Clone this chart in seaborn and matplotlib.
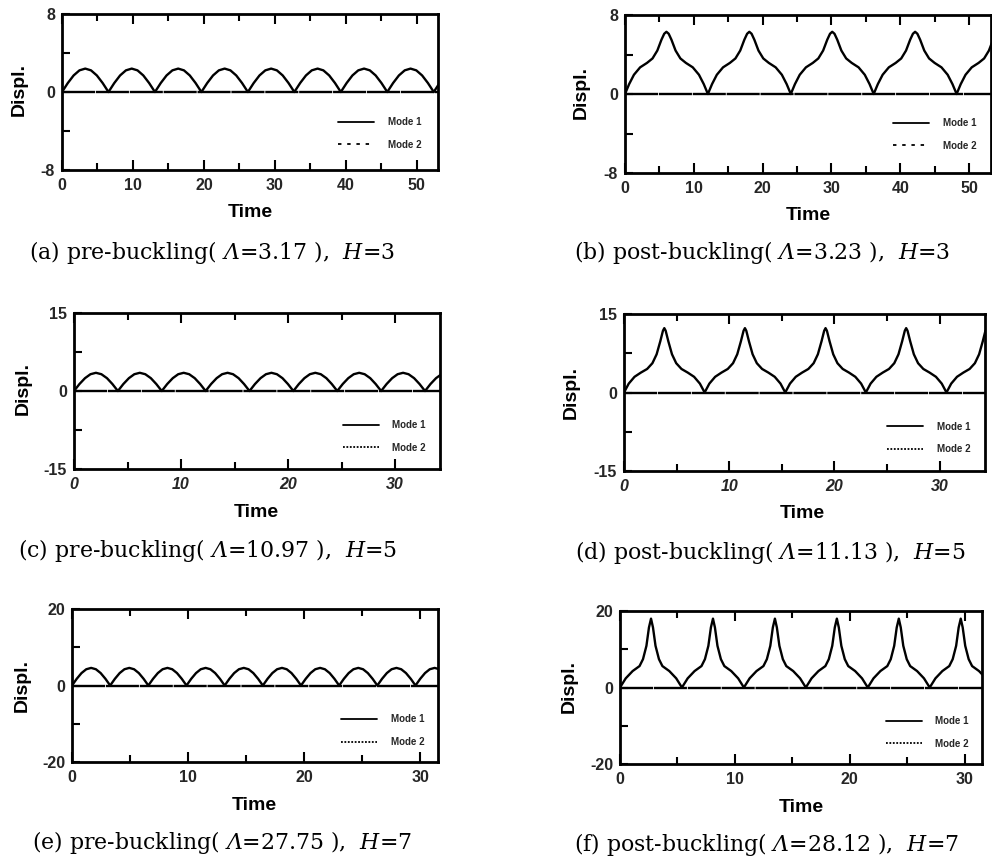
import matplotlib
matplotlib.use("Agg")
import matplotlib.pyplot as plt
from matplotlib.lines import Line2D
from matplotlib.ticker import FixedLocator
import pandas as pd
import seaborn as sns

# ---------------- data ----------------
# (a) pre-buckling, H=3
a_mode1_time = [0, 0.82, 1.64, 2.46, 3.28, 4.09, 4.91, 5.73, 6.55,
                7.37, 8.19, 9.01, 9.83, 10.64, 11.46, 12.28, 13.1,
                13.92, 14.74, 15.56, 16.38, 17.19, 18.01, 18.83, 19.65,
                20.47, 21.29, 22.11, 22.93, 23.74, 24.56, 25.38, 26.2,
                27.02, 27.84, 28.66, 29.48, 30.29, 31.11, 31.93, 32.75,
                33.57, 34.39, 35.21, 36.03, 36.84, 37.66, 38.48, 39.3,
                40.12, 40.94, 41.76, 42.58, 43.39, 44.21, 45.03, 45.85,
                46.67, 47.49, 48.31, 49.13, 49.94, 50.76, 51.58, 52.4,
                53.22]
a_mode1_disp = [0, 0.92, 1.7, 2.22, 2.4, 2.22, 1.7, 0.92, 0,
                0.92, 1.7, 2.22, 2.4, 2.22, 1.7, 0.92, 0,
                0.92, 1.7, 2.22, 2.4, 2.22, 1.7, 0.92, 0,
                0.92, 1.7, 2.22, 2.4, 2.22, 1.7, 0.92, 0,
                0.92, 1.7, 2.22, 2.4, 2.22, 1.7, 0.92, 0,
                0.92, 1.7, 2.22, 2.4, 2.22, 1.7, 0.92, 0,
                0.92, 1.7, 2.22, 2.4, 2.22, 1.7, 0.92, 0,
                0.92, 1.7, 2.22, 2.4, 2.22, 1.7, 0.92, 0,
                0.92]
a_mode2_time = [0, 54]
a_mode2_disp = [0, 0]

# (b) post-buckling, H=3
b_mode1_time = [0, 0.6, 1.3, 2.2, 3.2, 4.0, 4.7, 5.3, 5.7, 6.02, 6.35, 6.75, 7.35, 8.05, 8.85, 9.85, 10.75, 11.45, 12.05,
                12.65, 13.35, 14.25, 15.25, 16.05, 16.75, 17.35, 17.75, 18.07, 18.4, 18.8, 19.4, 20.1, 20.9, 21.9, 22.8, 23.5, 24.1,
                24.7, 25.4, 26.3, 27.3, 28.1, 28.8, 29.4, 29.8, 30.12, 30.45, 30.85, 31.45, 32.15, 32.95, 33.95, 34.85, 35.55, 36.15,
                36.75, 37.45, 38.35, 39.35, 40.15, 40.85, 41.45, 41.85, 42.17, 42.5, 42.9, 43.5, 44.2, 45.0, 46.0, 46.9, 47.6, 48.2,
                48.8, 49.5, 50.4, 51.4, 52.2, 52.9, 53.5]
b_mode1_disp = [0, 1.0, 1.95, 2.7, 3.15, 3.6, 4.4, 5.5, 6.1, 6.3, 6.1, 5.5, 4.4, 3.6, 3.15, 2.7, 1.95, 1.0, 0,
                1.0, 1.95, 2.7, 3.15, 3.6, 4.4, 5.5, 6.1, 6.3, 6.1, 5.5, 4.4, 3.6, 3.15, 2.7, 1.95, 1.0, 0,
                1.0, 1.95, 2.7, 3.15, 3.6, 4.4, 5.5, 6.1, 6.3, 6.1, 5.5, 4.4, 3.6, 3.15, 2.7, 1.95, 1.0, 0,
                1.0, 1.95, 2.7, 3.15, 3.6, 4.4, 5.5, 6.1, 6.3, 6.1, 5.5, 4.4, 3.6, 3.15, 2.7, 1.95, 1.0, 0,
                1.0, 1.95, 2.7, 3.15, 3.6, 4.4, 5.5]
b_mode2_time = [0, 54]
b_mode2_disp = [0, 0]

# (c) pre-buckling, H=5
c_mode1_time = [0, 0.51, 1.03, 1.54, 2.05, 2.56, 3.08, 3.59, 4.1,
                4.61, 5.13, 5.64, 6.15, 6.66, 7.18, 7.69, 8.2,
                8.71, 9.23, 9.74, 10.25, 10.76, 11.28, 11.79, 12.3,
                12.81, 13.33, 13.84, 14.35, 14.86, 15.38, 15.89, 16.4,
                16.91, 17.43, 17.94, 18.45, 18.96, 19.48, 19.99, 20.5,
                21.01, 21.53, 22.04, 22.55, 23.06, 23.58, 24.09, 24.6,
                25.11, 25.63, 26.14, 26.65, 27.16, 27.68, 28.19, 28.7,
                29.21, 29.73, 30.24, 30.75, 31.26, 31.78, 32.29, 32.8,
                33.31, 33.83, 34.34]
c_mode1_disp = [0, 1.34, 2.47, 3.23, 3.5, 3.23, 2.47, 1.34, 0,
                1.34, 2.47, 3.23, 3.5, 3.23, 2.47, 1.34, 0,
                1.34, 2.47, 3.23, 3.5, 3.23, 2.47, 1.34, 0,
                1.34, 2.47, 3.23, 3.5, 3.23, 2.47, 1.34, 0,
                1.34, 2.47, 3.23, 3.5, 3.23, 2.47, 1.34, 0,
                1.34, 2.47, 3.23, 3.5, 3.23, 2.47, 1.34, 0,
                1.34, 2.47, 3.23, 3.5, 3.23, 2.47, 1.34, 0,
                1.34, 2.47, 3.23, 3.5, 3.23, 2.47, 1.34, 0,
                1.34, 2.47, 3.23]
c_mode2_time = [0, 35]
c_mode2_disp = [0, 0]

# (d) post-buckling, H=5
d_mode1_time = [0, 0.45, 1.0, 1.6, 2.2, 2.7, 3.1, 3.45, 3.7, 3.83, 3.96, 4.21, 4.56, 4.96, 5.46, 6.06, 6.66, 7.21, 7.66,
                8.11, 8.66, 9.26, 9.86, 10.36, 10.76, 11.11, 11.36, 11.49, 11.62, 11.87, 12.22, 12.62, 13.12, 13.72, 14.32, 14.87, 15.32,
                15.77, 16.32, 16.92, 17.52, 18.02, 18.42, 18.77, 19.02, 19.15, 19.28, 19.53, 19.88, 20.28, 20.78, 21.38, 21.98, 22.53, 22.98,
                23.43, 23.98, 24.58, 25.18, 25.68, 26.08, 26.43, 26.68, 26.81, 26.94, 27.19, 27.54, 27.94, 28.44, 29.04, 29.64, 30.19, 30.64,
                31.09, 31.64, 32.24, 32.84, 33.34, 33.74, 34.09, 34.34]
d_mode1_disp = [0, 1.7, 3.0, 3.8, 4.5, 5.6, 7.3, 9.8, 11.8, 12.3, 11.8, 9.8, 7.3, 5.6, 4.5, 3.8, 3.0, 1.7, 0,
                1.7, 3.0, 3.8, 4.5, 5.6, 7.3, 9.8, 11.8, 12.3, 11.8, 9.8, 7.3, 5.6, 4.5, 3.8, 3.0, 1.7, 0,
                1.7, 3.0, 3.8, 4.5, 5.6, 7.3, 9.8, 11.8, 12.3, 11.8, 9.8, 7.3, 5.6, 4.5, 3.8, 3.0, 1.7, 0,
                1.7, 3.0, 3.8, 4.5, 5.6, 7.3, 9.8, 11.8, 12.3, 11.8, 9.8, 7.3, 5.6, 4.5, 3.8, 3.0, 1.7, 0,
                1.7, 3.0, 3.8, 4.5, 5.6, 7.3, 9.8, 11.8]
d_mode2_time = [0, 35]
d_mode2_disp = [0, 0]

# (e) pre-buckling, H=7
e_mode1_time = [0, 0.41, 0.82, 1.23, 1.65, 2.06, 2.47, 2.88, 3.29,
                3.7, 4.11, 4.52, 4.94, 5.35, 5.76, 6.17, 6.58,
                6.99, 7.4, 7.81, 8.23, 8.64, 9.05, 9.46, 9.87,
                10.28, 10.69, 11.1, 11.52, 11.93, 12.34, 12.75, 13.16,
                13.57, 13.98, 14.39, 14.81, 15.22, 15.63, 16.04, 16.45,
                16.86, 17.27, 17.68, 18.1, 18.51, 18.92, 19.33, 19.74,
                20.15, 20.56, 20.97, 21.39, 21.8, 22.21, 22.62, 23.03,
                23.44, 23.85, 24.26, 24.68, 25.09, 25.5, 25.91, 26.32,
                26.73, 27.14, 27.55, 27.97, 28.38, 28.79, 29.2, 29.61,
                30.02, 30.43, 30.84, 31.26, 31.67]
e_mode1_disp = [0, 1.76, 3.25, 4.25, 4.6, 4.25, 3.25, 1.76, 0,
                1.76, 3.25, 4.25, 4.6, 4.25, 3.25, 1.76, 0,
                1.76, 3.25, 4.25, 4.6, 4.25, 3.25, 1.76, 0,
                1.76, 3.25, 4.25, 4.6, 4.25, 3.25, 1.76, 0,
                1.76, 3.25, 4.25, 4.6, 4.25, 3.25, 1.76, 0,
                1.76, 3.25, 4.25, 4.6, 4.25, 3.25, 1.76, 0,
                1.76, 3.25, 4.25, 4.6, 4.25, 3.25, 1.76, 0,
                1.76, 3.25, 4.25, 4.6, 4.25, 3.25, 1.76, 0,
                1.76, 3.25, 4.25, 4.6, 4.25, 3.25, 1.76, 0,
                1.76, 3.25, 4.25, 4.6, 4.25]
e_mode2_time = [0, 32]
e_mode2_disp = [0, 0]

# (f) post-buckling, H=7
f_mode1_time = [0, 0.5, 1.1, 1.7, 2.0, 2.3, 2.52, 2.7, 2.87, 3.09, 3.39, 3.69, 4.29, 4.89, 5.39,
                5.89, 6.49, 7.09, 7.39, 7.69, 7.91, 8.09, 8.26, 8.48, 8.78, 9.08, 9.68, 10.28, 10.78,
                11.28, 11.88, 12.48, 12.78, 13.08, 13.3, 13.48, 13.65, 13.87, 14.17, 14.47, 15.07, 15.67, 16.17,
                16.67, 17.27, 17.87, 18.17, 18.47, 18.69, 18.87, 19.04, 19.26, 19.56, 19.86, 20.46, 21.06, 21.56,
                22.06, 22.66, 23.26, 23.56, 23.86, 24.08, 24.26, 24.43, 24.65, 24.95, 25.25, 25.85, 26.45, 26.95,
                27.45, 28.05, 28.65, 28.95, 29.25, 29.47, 29.65, 29.82, 30.04, 30.34, 30.64, 31.24, 31.84]
f_mode1_disp = [0, 2.4, 4.3, 5.6, 7.4, 10.9, 15.7, 18.0, 15.7, 10.9, 7.4, 5.6, 4.3, 2.4, 0,
                2.4, 4.3, 5.6, 7.4, 10.9, 15.7, 18.0, 15.7, 10.9, 7.4, 5.6, 4.3, 2.4, 0,
                2.4, 4.3, 5.6, 7.4, 10.9, 15.7, 18.0, 15.7, 10.9, 7.4, 5.6, 4.3, 2.4, 0,
                2.4, 4.3, 5.6, 7.4, 10.9, 15.7, 18.0, 15.7, 10.9, 7.4, 5.6, 4.3, 2.4, 0,
                2.4, 4.3, 5.6, 7.4, 10.9, 15.7, 18.0, 15.7, 10.9, 7.4, 5.6, 4.3, 2.4, 0,
                2.4, 4.3, 5.6, 7.4, 10.9, 15.7, 18.0, 15.7, 10.9, 7.4, 5.6, 4.3, 2.4]
f_mode2_time = [0, 32]
f_mode2_disp = [0, 0]

series_labels = ["Mode 1", "Mode 2"]
x_label = "Time"
y_label = "Displ."

# tick values / labels
ab_xticks = [0, 10, 20, 30, 40, 50]
ab_xticklabels = ["0", "10", "20", "30", "40", "50"]
cdef_xticks = [0, 10, 20, 30]
cdef_xticklabels = ["0", "10", "20", "30"]
ab_yticks = [-8, 0, 8]
ab_yticklabels = ["-8", "0", "8"]
cd_yticks = [-15, 0, 15]
cd_yticklabels = ["-15", "0", "15"]
ef_yticks = [-20, 0, 20]
ef_yticklabels = ["-20", "0", "20"]

captions = [
    r"(a) pre-buckling( $\mathsf{\Lambda}$=3.17 ),  $\mathit{H}$=3",
    r"(b) post-buckling( $\mathsf{\Lambda}$=3.23 ),  $\mathit{H}$=3",
    r"(c) pre-buckling( $\mathsf{\Lambda}$=10.97 ),  $\mathit{H}$=5",
    r"(d) post-buckling( $\mathsf{\Lambda}$=11.13 ),  $\mathit{H}$=5",
    r"(e) pre-buckling( $\mathsf{\Lambda}$=27.75 ),  $\mathit{H}$=7",
    r"(f) post-buckling( $\mathsf{\Lambda}$=28.12 ),  $\mathit{H}$=7",
]

# ---------------- styling ----------------
sns.set_theme(style="white")
plt.rcParams["font.family"] = ["Liberation Sans", "DejaVu Sans"]
plt.rcParams["axes.unicode_minus"] = False
plt.rcParams["mathtext.fontset"] = "custom"
plt.rcParams["mathtext.rm"] = "DejaVu Serif"
plt.rcParams["mathtext.it"] = "DejaVu Serif:italic"
plt.rcParams["mathtext.sf"] = "DejaVu Serif:italic"
plt.rcParams["mathtext.bf"] = "DejaVu Serif:bold"

W, H = 992, 859
fig = plt.figure(figsize=(W / 100, H / 100), dpi=100)
fig.patch.set_facecolor("white")

panels = [
    dict(t1=a_mode1_time, d1=a_mode1_disp, t2=a_mode2_time, d2=a_mode2_disp,
         rect=(62, 14, 438, 170), xmax=53.0, ylim=8, xt=ab_xticks, xtl=ab_xticklabels,
         yt=ab_yticks, ytl=ab_yticklabels, ital=False, leg=(0.845, 0.235),
         ylc=(-0.114, 0.513), xlc=(0.5, -0.299), dash=(1.9, 3.2), cap=(212, 252), cfs=15.8),
    dict(t1=b_mode1_time, d1=b_mode1_disp, t2=b_mode2_time, d2=b_mode2_disp,
         rect=(625, 15, 991, 173), xmax=53.2, ylim=8, xt=ab_xticks, xtl=ab_xticklabels,
         yt=ab_yticks, ytl=ab_yticklabels, ital=False, leg=(0.847, 0.244),
         ylc=(-0.119, 0.51), xlc=(0.501, -0.297), dash=(1.9, 3.2), cap=(762, 253), cfs=15.8),
    dict(t1=c_mode1_time, d1=c_mode1_disp, t2=c_mode2_time, d2=c_mode2_disp,
         rect=(74, 313, 440, 469), xmax=34.2, ylim=15, xt=cdef_xticks, xtl=cdef_xticklabels,
         yt=cd_yticks, ytl=cd_yticklabels, ital=True, leg=(0.848, 0.21),
         ylc=(-0.139, 0.513), xlc=(0.498, -0.306), dash=(1.0, 0.9), cap=(208, 551), cfs=15.8),
    dict(t1=d_mode1_time, d1=d_mode1_disp, t2=d_mode2_time, d2=d_mode2_disp,
         rect=(624, 314, 985, 471), xmax=34.3, ylim=15, xt=cdef_xticks, xtl=cdef_xticklabels,
         yt=cd_yticks, ytl=cd_yticklabels, ital=True, leg=(0.845, 0.21),
         ylc=(-0.145, 0.50), xlc=(0.494, -0.301), dash=(1.0, 0.9), cap=(770, 552), cfs=15.8),
    dict(t1=e_mode1_time, d1=e_mode1_disp, t2=e_mode2_time, d2=e_mode2_disp,
         rect=(72, 609, 438, 762), xmax=31.55, ylim=20, xt=cdef_xticks, xtl=cdef_xticklabels,
         yt=ef_yticks, ytl=ef_yticklabels, ital=False, leg=(0.849, 0.204),
         ylc=(-0.137, 0.50), xlc=(0.497, -0.314), dash=(1.0, 0.9), cap=(222, 843), cfs=15.8),
    dict(t1=f_mode1_time, d1=f_mode1_disp, t2=f_mode2_time, d2=f_mode2_disp,
         rect=(620, 611, 982, 764), xmax=31.5, ylim=20, xt=cdef_xticks, xtl=cdef_xticklabels,
         yt=ef_yticks, ytl=ef_yticklabels, ital=False, leg=(0.849, 0.206),
         ylc=(-0.14, 0.505), xlc=(0.5, -0.312), dash=(1.0, 0.9), cap=(766, 845), cfs=15.8),
]

for i, p in enumerate(panels):
    L, T, R, B = p["rect"]
    ax = fig.add_axes([L / W, 1 - B / H, (R - L) / W, (B - T) / H])
    ax.set_facecolor("white")

    df = pd.concat([
        pd.DataFrame({"Time": p["t1"], "Displ": p["d1"], "mode": series_labels[0]}),
        pd.DataFrame({"Time": p["t2"], "Displ": p["d2"], "mode": series_labels[1]}),
    ], ignore_index=True)

    sns.lineplot(data=df, x="Time", y="Displ", hue="mode", style="mode",
                 palette={series_labels[0]: "black", series_labels[1]: "black"},
                 dashes={series_labels[0]: "", series_labels[1]: (14.0, 0.35)},
                 estimator=None, sort=False, legend=False, linewidth=1.7, ax=ax)

    ax.set_xlim(0, p["xmax"])
    ax.set_ylim(-p["ylim"], p["ylim"])

    ax.set_xticks(p["xt"])
    ax.set_xticklabels(p["xtl"], fontsize=11.5, fontweight="bold",
                       fontstyle="italic" if p["ital"] else "normal")
    step = p["xt"][1] - p["xt"][0]
    ax.xaxis.set_minor_locator(FixedLocator([v + step / 2 for v in p["xt"]]))
    ax.set_yticks(p["yt"])
    ax.set_yticklabels(p["ytl"], fontsize=11.5, fontweight="bold")
    ax.yaxis.set_minor_locator(FixedLocator([p["yt"][0] / 2, p["yt"][2] / 2]))

    ax.tick_params(axis="x", which="both", direction="in", top=True, bottom=True,
                   color="black", width=1.5)
    ax.tick_params(axis="x", which="major", length=7.5, pad=6)
    ax.tick_params(axis="x", which="minor", length=5)
    ax.tick_params(axis="y", which="both", direction="in", left=True, right=False,
                   color="black", width=1.5, length=6, pad=5)

    for s in ax.spines.values():
        s.set_visible(True)
        s.set_color("black")
        s.set_linewidth(2.0)

    ax.set_xlabel(x_label, fontsize=14, fontweight="bold", color="black")
    ax.xaxis.set_label_coords(*p["xlc"])
    ax.xaxis.label.set_verticalalignment("baseline")
    ax.set_ylabel(y_label, fontsize=14, fontweight="bold", color="black")
    ax.yaxis.set_label_coords(*p["ylc"])
    ax.yaxis.label.set_verticalalignment("center")

    handles = [Line2D([], [], color="black", lw=1.3),
               Line2D([], [], color="black", lw=1.3, dashes=p["dash"])]
    ax.legend(handles, series_labels, loc="center", bbox_to_anchor=p["leg"],
              frameon=False, prop={"weight": "bold", "size": 7},
              handlelength=3.7, handletextpad=1.4, labelspacing=1.3,
              borderpad=0, borderaxespad=0)

    cx, cy = p["cap"]
    fig.text(cx / W, 1 - cy / H, captions[i], ha="center", va="center",
             fontsize=p["cfs"], fontweight="normal", family="DejaVu Serif",
             color="black")

fig.savefig("out.png", dpi=100, facecolor="white")
